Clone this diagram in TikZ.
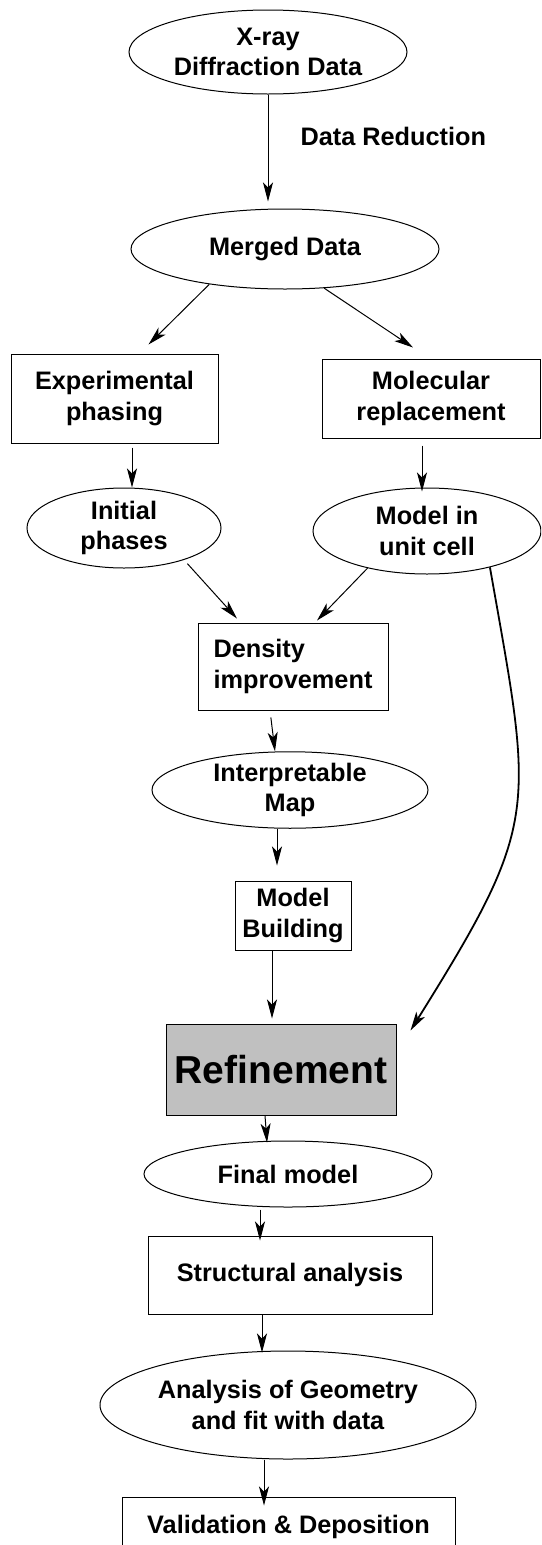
\documentclass[tikz,border=0pt]{standalone}
\usepackage{fontspec}
\setmainfont{Liberation Sans}
\usepackage{tikz}
\usetikzlibrary{shapes,arrows,positioning,arrows.meta}
\definecolor{refgray}{RGB}{192,192,192}

\begin{document}
\begin{tikzpicture}[x=1pt, y=1pt, line width=1pt, >={Stealth[length=19pt,width=10pt,inset=5pt]},
    every node/.style={inner sep=0pt, align=center, font=\fontsize{25.3}{30.5}\selectfont\bfseries},
    oval/.style={ellipse, draw},
    box/.style={rectangle, draw}]
    \clip (0,0) rectangle (541,-1545);
    \node [oval, minimum width=278pt, minimum height=84pt] (xray) at (268,-52) {X-ray\\Diffraction Data};
    \node [oval, below of=xray, node distance=197pt, xshift=17pt, minimum width=308pt, minimum height=80pt] (merged) {Merged Data};
    \node [box, below of=merged, node distance=149.5pt, xshift=-170.5pt, minimum width=207pt, minimum height=89pt] (exp) {Experimental\\phasing};
    \node [box, below of=merged, node distance=149.5pt, xshift=146pt, minimum width=218pt, minimum height=79pt] (mol) {Molecular\\replacement};
    \node [oval, below of=exp, node distance=129.5pt, xshift=9.5pt, minimum width=194pt, minimum height=80pt] (initial) {Initial\\phases};
    \node [oval, below of=mol, node distance=132.5pt, xshift=-4pt, minimum width=228pt, minimum height=86pt] (model) {Model in\\unit cell};
    \node [box, below of=merged, node distance=417.5pt, xshift=8pt, minimum width=190pt, minimum height=87pt, align=left] (density) {Density\\improvement};
    \node [oval, below of=density, node distance=123.5pt, xshift=-3pt, minimum width=276pt, minimum height=74pt] (interp) {Interpretable\\Map};
    \node [box, below of=interp, node distance=125.5pt, xshift=3pt, minimum width=116pt, minimum height=69pt] (mb) {Model\\Building};
    \node [box, below of=mb, node distance=154pt, xshift=-12pt, minimum width=230pt, minimum height=91pt, fill=refgray, font=\fontsize{39}{45}\selectfont\bfseries] (refine) {Refinement};
    \node [oval, below of=refine, node distance=104.5pt, xshift=7pt, minimum width=288pt, minimum height=66pt] (final) {Final model};
    \node [box, below of=final, node distance=101pt, xshift=2pt, minimum width=284pt, minimum height=78pt] (struct) {Structural analysis};
    \node [oval, below of=struct, node distance=130pt, xshift=-2pt, minimum width=376pt, minimum height=108pt] (analysis) {Analysis of Geometry\\and fit with data};
    \node [box, below of=analysis, node distance=122pt, xshift=0.5pt, minimum width=333pt, minimum height=60pt] (valid) {Validation \& Deposition};

    \draw [->, shorten >=7pt] (xray.south) -- node[pos=0.37, right=32pt] {Data Reduction} (xray.south |- merged.north);
    \draw [->] (merged.-155) -- ([xshift=34pt,yshift=9pt]exp.north);
    \draw [->] (merged.-45) -- ([xshift=-18pt,yshift=11pt]mol.north);
    \draw [->, shorten <=4pt] ([xshift=17.5pt]exp.south) -- ([xshift=8pt]initial.north);
    \draw [->, shorten <=7pt] ([xshift=-9pt]mol.south) -- ([xshift=-5pt,yshift=-4pt]model.north);
    \draw [->, shorten <=5pt] (initial.-28) -- ([xshift=-56pt,yshift=4pt]density.north);
    \draw [->] (model.-148) -- ([xshift=24pt,yshift=2pt]density.north);
    \draw [->, shorten <=7pt] ([xshift=-23pt]density.south) -- ([xshift=-15pt]interp.north);
    \draw [->] ([xshift=-13pt]interp.south) -- ([xshift=-16pt,yshift=15pt]mb.north);
    \draw [->] ([xshift=-21pt]mb.south) -- ([xshift=-9pt,yshift=5pt]refine.north);
    \draw [->] ([xshift=-16pt]refine.south) -- ([xshift=-21pt,yshift=-2pt]final.north);
    \draw [->, shorten <=2pt] ([xshift=-28pt]final.south) -- ([xshift=-30pt,yshift=-5pt]struct.north);
    \draw [->] ([xshift=-28pt]struct.south) -- ([xshift=-26pt,yshift=-2pt]analysis.north);
    \draw [->] ([xshift=-24pt]analysis.south) -- ([xshift=-24.5pt,yshift=-9pt]valid.north);
    \draw [->, line width=1.8pt] (model.-30) to [out=-80, in=58, looseness=1.35] ([xshift=14pt,yshift=-7pt]refine.north east);
\end{tikzpicture}
\end{document}
